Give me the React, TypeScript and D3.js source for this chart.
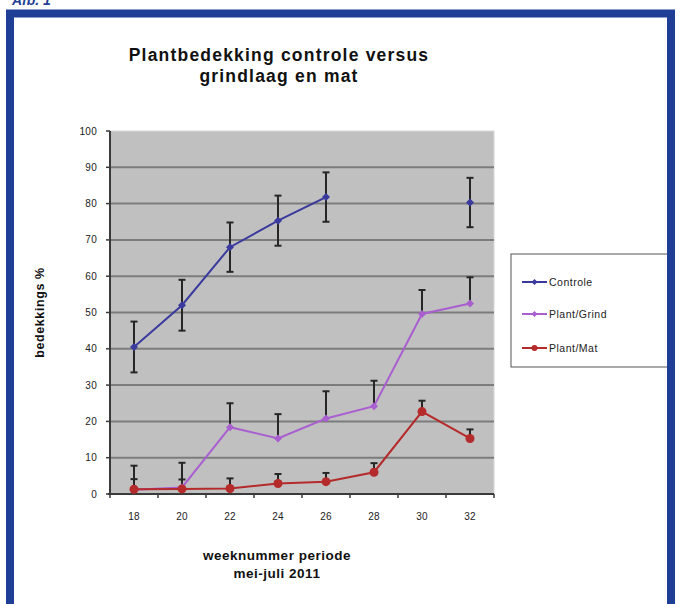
import React from 'react';
import * as d3 from 'd3';

const weeks = ['18', '20', '22', '24', '26', '28', '30', '32'];
const controle: (number | null)[] = [40.5, 52, 68, 75.3, 81.8, null, null, 80.3];
const controleErr: (number | null)[] = [7, 7, 6.8, 6.9, 6.8, null, null, 6.8];
const grind: number[] = [1.2, 1.8, 18.4, 15.3, 20.8, 24.2, 49.6, 52.5];
const grindErr: number[] = [6.6, 6.8, 6.6, 6.7, 7.5, 7, 6.6, 7.2];
const mat: number[] = [1.3, 1.4, 1.5, 2.9, 3.4, 6, 22.7, 15.3];
const matErr: number[] = [2.8, 2.6, 2.8, 2.6, 2.4, 2.5, 3, 2.5];
const yTicks = [0, 10, 20, 30, 40, 50, 60, 70, 80, 90, 100];
const seriesNames = ['Controle', 'Plant/Grind', 'Plant/Mat'];
const seriesColors = ['#3a3a9e', '#a95fd0', '#b52a2a'];

const W = 681, H = 604;
const plot = { left: 110, right: 494, top: 131, bottom: 494 };

export default function App() {
  const x = d3.scaleBand<string>().domain(weeks).range([plot.left, plot.right]);
  const y = d3.scaleLinear().domain([0, 100]).range([plot.bottom, plot.top]);
  const cx = (w: string) => (x(w) as number) + x.bandwidth() / 2;

  const line = d3.line<number | null>()
    .defined(d => d !== null)
    .x((_, i) => cx(weeks[i]))
    .y(d => y(d as number));

  const font = 'Liberation Sans, Arial, sans-serif';

  const errBars = (vals: (number | null)[], errs: (number | null)[], both: boolean, key: string) =>
    vals.map((v, i) => {
      if (v === null || errs[i] === null) return null;
      const e = errs[i] as number;
      const xx = cx(weeks[i]);
      const top = y(v + e);
      const bot = both ? y(v - e) : y(v);
      return (
        <g key={key + i} stroke="#262626" strokeWidth={2}>
          <line x1={xx} x2={xx} y1={top} y2={bot} />
          <line x1={xx - 3.5} x2={xx + 3.5} y1={top} y2={top} />
          {both && <line x1={xx - 3.5} x2={xx + 3.5} y1={bot} y2={bot} />}
        </g>
      );
    });

  const diamond = (xx: number, yy: number, r: number, fill: string, k: string) => (
    <path key={k} d={`M${xx},${yy - r}L${xx + r},${yy}L${xx},${yy + r}L${xx - r},${yy}Z`} fill={fill} />
  );

  const legendY = [282, 314, 348];

  return (
    <svg width={W} height={H} style={{ position: 'absolute', left: 0, top: 0, background: '#fff' }} fontFamily={font}>
      <rect x={0} y={0} width={W} height={H} fill="#fff" />
      {/* figure caption, cut at the top as in the source */}
      <text x={12} y={5} fontSize={14} fontStyle="italic" fontWeight="bold" fill="#1f3f97">Afb. 1</text>
      {/* blue frame */}
      <rect x={10} y={13.5} width={661} height={700} fill="none" stroke="#1f3f97" strokeWidth={8} />

      {/* title */}
      <text x={279} y={61} textAnchor="middle" fontSize={17.5} fontWeight="bold" letterSpacing={1.2} fill="#111">Plantbedekking controle versus</text>
      <text x={279} y={82} textAnchor="middle" fontSize={17.5} fontWeight="bold" letterSpacing={1.2} fill="#111">grindlaag en mat</text>

      {/* plot area */}
      <rect x={plot.left} y={plot.top} width={plot.right - plot.left} height={plot.bottom - plot.top} fill="#c0c0c0" stroke="#d8d8d8" strokeWidth={1} />
      {yTicks.filter(t => t > 0 && t < 100).map(t => (
        <line key={'g' + t} x1={plot.left} x2={plot.right} y1={y(t)} y2={y(t)} stroke="#7c7c7c" strokeWidth={2} />
      ))}
      {/* axes */}
      <line x1={plot.left} x2={plot.left} y1={plot.top} y2={plot.bottom} stroke="#3a3a3a" strokeWidth={2} />
      <line x1={plot.left - 2} x2={plot.right} y1={plot.bottom} y2={plot.bottom} stroke="#3a3a3a" strokeWidth={2} />
      {yTicks.map(t => (
        <g key={'yt' + t}>
          <line x1={plot.left - 4} x2={plot.left} y1={y(t)} y2={y(t)} stroke="#3a3a3a" strokeWidth={1.5} />
          <text x={plot.left - 13} y={y(t) + 3.5} textAnchor="end" fontSize={10} letterSpacing={0.3} fill="#222">{t}</text>
        </g>
      ))}
      {weeks.map((w) => (
        <g key={'xt' + w}>
          <line x1={(x(w) as number) + x.bandwidth()} x2={(x(w) as number) + x.bandwidth()} y1={plot.bottom} y2={plot.bottom + 4} stroke="#3a3a3a" strokeWidth={1.5} />
          <text x={cx(w)} y={520} textAnchor="middle" fontSize={10} letterSpacing={0.3} fill="#222">{w}</text>
        </g>
      ))}
      <line x1={plot.left} x2={plot.left} y1={plot.bottom} y2={plot.bottom + 4} stroke="#3a3a3a" strokeWidth={1.5} />

      {/* axis titles */}
      <text transform={`translate(44,${(plot.top + plot.bottom) / 2}) rotate(-90)`} textAnchor="middle" fontSize={12.5} fontWeight="bold" letterSpacing={0.6} fill="#111">bedekkings %</text>
      <text x={277} y={560} textAnchor="middle" fontSize={13.5} fontWeight="bold" letterSpacing={0.5} fill="#111">weeknummer periode</text>
      <text x={277} y={578} textAnchor="middle" fontSize={13.5} fontWeight="bold" letterSpacing={0.5} fill="#111">mei-juli 2011</text>

      {/* series */}
      <path d={line(controle) || ''} fill="none" stroke={seriesColors[0]} strokeWidth={2} />
      <path d={line(grind) || ''} fill="none" stroke={seriesColors[1]} strokeWidth={2} />
      <path d={line(mat) || ''} fill="none" stroke={seriesColors[2]} strokeWidth={2} />
      {errBars(controle, controleErr, true, 'ce')}
      {errBars(grind, grindErr, false, 'ge')}
      {errBars(mat, matErr, false, 'me')}
      {controle.map((v, i) => v === null ? null : diamond(cx(weeks[i]), y(v), 4, seriesColors[0], 'cm' + i))}
      {grind.map((v, i) => diamond(cx(weeks[i]), y(v), 4, seriesColors[1], 'gm' + i))}
      {mat.map((v, i) => <circle key={'mm' + i} cx={cx(weeks[i])} cy={y(v)} r={4.5} fill={seriesColors[2]} />)}

      {/* legend */}
      <rect x={511} y={254} width={162} height={113} fill="#fff" stroke="#555" strokeWidth={1} />
      {seriesNames.map((n, i) => (
        <g key={'lg' + i}>
          <line x1={522} x2={547} y1={legendY[i]} y2={legendY[i]} stroke={seriesColors[i]} strokeWidth={2} />
          {i === 2
            ? <circle cx={534.5} cy={legendY[i]} r={3} fill={seriesColors[i]} />
            : diamond(534.5, legendY[i], 3, seriesColors[i], 'ld' + i)}
          <text x={549} y={legendY[i] + 3.5} fontSize={10.5} letterSpacing={0.5} fill="#222">{n}</text>
        </g>
      ))}
      {/* right frame edge drawn over the legend */}
      <line x1={671} x2={671} y1={13.5} y2={H} stroke="#1f3f97" strokeWidth={8} />
    </svg>
  );
}
